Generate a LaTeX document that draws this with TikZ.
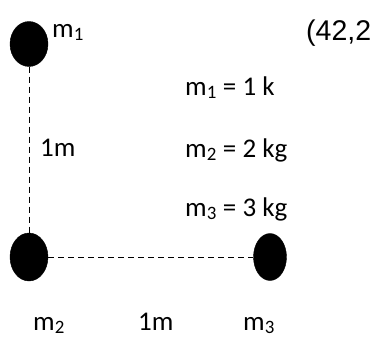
\documentclass[tikz,border=0pt]{standalone}
\usepackage{fontspec}
\setmainfont{Carlito}
\newfontfamily\arialfont{Liberation Sans}
\usetikzlibrary{shapes.geometric}
\begin{document}
\begin{tikzpicture}[x=1pt, y=-1pt,
    mass/.style={ellipse, draw, fill=black, inner sep=0pt},
    lbl/.style={anchor=base west, inner sep=0pt, font=\fontsize{27}{32}\selectfont},
    rope/.style={dash pattern=on 6pt off 4pt, line width=1pt}]
        \useasboundingbox (0,0) rectangle (374,338);
        %masse
        \node[mass, minimum width=38pt, minimum height=45pt] (m1) at (29,44) {};
        \node[mass, minimum width=38pt, minimum height=48pt] (m2) at (29,257) {};
        \node[mass, minimum width=33pt, minimum height=47pt] (m3) at (270,257) {};

        %distanze
        \draw[rope] (m1.south)--(m2.north);
        \draw[rope] (m2.east)--(m3.west);

        %label
        \node[lbl] (l1) at (52,37) {m\textsubscript{1}};
        \node[lbl, font=\arialfont\fontsize{28.5}{32}\selectfont] (pt) at (306,40) {(42,2};
        \node[lbl] (d1) at (40,156) {1m};
        \node[lbl] (v1) at (185,95) {m\textsubscript{1} = 1 k};
        \node[lbl] (v2) at (185,157) {m\textsubscript{2} = 2 kg};
        \node[lbl] (v3) at (185,216) {m\textsubscript{3} = 3 kg};
        \node[lbl] (l2) at (33,330) {m\textsubscript{2}};
        \node[lbl] (d2) at (138,330) {1m};
        \node[lbl] (l3) at (243,330) {m\textsubscript{3}};
    \end{tikzpicture}
\end{document}
